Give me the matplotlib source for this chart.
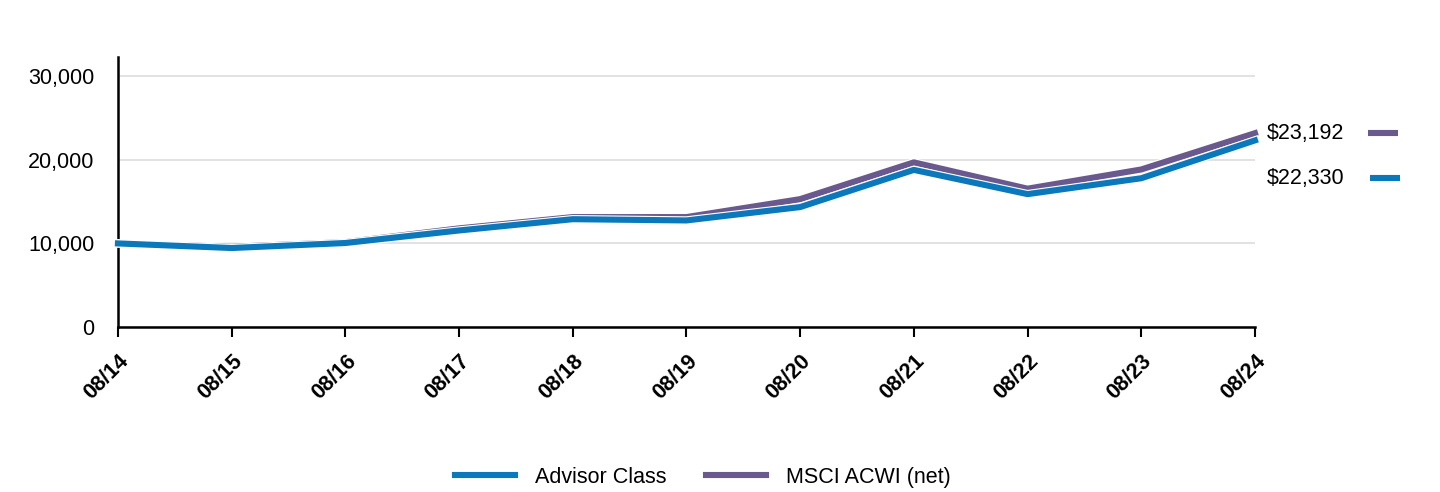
import matplotlib
matplotlib.use("Agg")
import matplotlib.pyplot as plt
import matplotlib.patheffects as pe
from matplotlib.lines import Line2D
from matplotlib.ticker import FuncFormatter

plt.rcParams['font.family'] = ['Liberation Sans', 'DejaVu Sans']

dates = ["08/14", "08/15", "08/16", "08/17", "08/18", "08/19", "08/20", "08/21", "08/22", "08/23", "08/24"]
advisor = [10000, 9450, 10050, 11550, 12900, 12750, 14350, 18800, 15900, 17800, 22330]
msci = [10000, 9600, 10150, 11800, 13150, 13150, 15300, 19700, 16550, 18850, 23192]
series_names = ["Advisor Class", "MSCI ACWI (net)"]
end_labels = ["$22,330", "$23,192"]

BLUE = "#0A78BA"
PURPLE = "#69598C"
FS = 15.5

fig = plt.figure(figsize=(14.4, 4.92), dpi=100)
ax = fig.add_axes([0.0819, 0.3354, 0.7896, 0.5486])

x = list(range(len(dates)))
stroke = [pe.Stroke(linewidth=6, foreground="white"), pe.Normal()]
ax.plot(x, msci, color=PURPLE, lw=4.4, path_effects=stroke, zorder=3, clip_on=False)
ax.plot(x, advisor, color=BLUE, lw=4.4, path_effects=stroke, zorder=4, clip_on=False)

ax.set_xlim(0, len(dates) - 1)
ax.set_ylim(0, 32300)
ax.set_yticks([0, 10000, 20000, 30000])
ax.yaxis.set_major_formatter(FuncFormatter(lambda v, p: f"{int(v):,}"))
ax.grid(axis="y", color="#DDDDDD", lw=1.2, zorder=0)
ax.set_axisbelow(True)
for s in ["top", "right"]:
    ax.spines[s].set_visible(False)
ax.spines["left"].set_linewidth(1.8)
ax.spines["bottom"].set_linewidth(1.8)
ax.tick_params(axis="y", length=0, labelsize=FS, pad=17)
ax.tick_params(axis="x", length=7, width=1.5, labelsize=FS, pad=10)
ax.set_xticks(x)
ax.set_xticklabels(dates, rotation=45, ha="right", rotation_mode="anchor", fontweight="bold")

# end-of-line value labels with short colour keys
trans = ax.get_yaxis_transform()
label_rows = [(23200, end_labels[1], PURPLE, 1.0994, 1.1258),
              (17800, end_labels[0], BLUE, 1.1012, 1.1275)]
for yv, lab, col, x0, x1 in label_rows:
    ax.text(1.0106, yv, lab, transform=trans, fontsize=FS, va="center", ha="left", clip_on=False)
    ax.plot([x0, x1], [yv, yv], transform=trans, color=col, lw=4.4, clip_on=False, solid_capstyle="butt")

handles = [Line2D([0], [0], color=BLUE, lw=4.4), Line2D([0], [0], color=PURPLE, lw=4.4)]
fig.legend(handles, series_names, loc="center", bbox_to_anchor=(0.488, 0.03), ncol=2, frameon=False,
           fontsize=FS, handlelength=2.8, columnspacing=1.85, handletextpad=0.9)

fig.savefig("out.png", dpi=100)
